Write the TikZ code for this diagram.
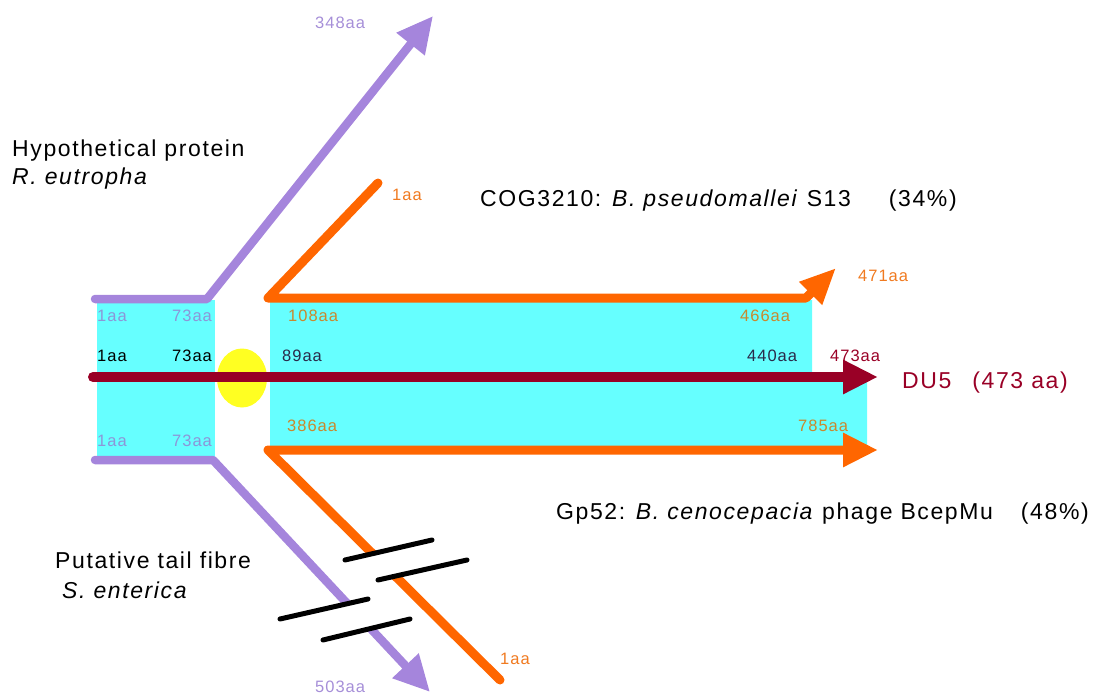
\documentclass[tikz,border=0pt]{standalone}
\usepackage{fontspec}
\setmainfont{Liberation Sans}[LetterSpace=7.0]
\usetikzlibrary{arrows.meta}

\definecolor{domfill}{HTML}{66FFFF}
\definecolor{lav}{HTML}{A585DC}
\definecolor{lavtxt}{HTML}{A68FD8}
\definecolor{bluetxt}{HTML}{8C96D8}
\definecolor{orng}{HTML}{FF6600}
\definecolor{orngtxt}{HTML}{F07A20}
\definecolor{ochre}{HTML}{C8892E}
\definecolor{durd}{HTML}{990026}
\definecolor{navy}{HTML}{2A2A4A}
\definecolor{spot}{HTML}{FFFF22}

\begin{document}
\begin{tikzpicture}[x=1pt,y=-1pt,
  big/.style={font=\fontsize{23}{27}\selectfont, anchor=base west, inner sep=0pt},
  small/.style={font=\fontsize{16.5}{19}\selectfont\addfontfeatures{LetterSpace=6.0}, anchor=base west, inner sep=0pt},
  lavline/.style={draw=lav, line width=8.5pt, line cap=round, line join=round},
  orline/.style={draw=orng, line width=9pt, line cap=round, line join=round},
  duline/.style={draw=durd, line width=10pt, line cap=round},
  brk/.style={draw=black, line width=5pt, line cap=round},
]
\useasboundingbox (0,0) rectangle (1098,695);

% conserved domain blocks
\fill[domfill] (97,300) rectangle (215,457);
\fill[domfill] (270,300) -- (812,300) -- (812,377) -- (867,377) -- (867,450) -- (270,450) -- cycle;

% linker spot
\fill[spot] (242,378) ellipse [x radius=25, y radius=29.5];

% path points
\coordinate (hpA) at (95,299);
\coordinate (hpB) at (207,299);
\coordinate (hpC) at (433,16);
\coordinate (tfA) at (95,460);
\coordinate (tfB) at (213,460);
\coordinate (tfC) at (430,692);
\coordinate (cgA) at (378,183);
\coordinate (cgB) at (268,298);
\coordinate (cgC) at (806,298);
\coordinate (cgD) at (836,268);
\coordinate (gpA) at (500,680);
\coordinate (gpB) at (268,450);
\coordinate (gpC) at (878,450);
\coordinate (duA) at (93,377);
\coordinate (duB) at (878,377);

% hypothetical protein (R. eutropha)
\draw[lavline, -{Triangle[length=36pt,width=34pt]}] (hpA) -- (hpB) -- (hpC);
% putative tail fibre (S. enterica)
\draw[lavline, -{Triangle[length=36pt,width=34pt]}] (tfA) -- (tfB) -- (tfC);
% COG3210
\draw[orline, -{Triangle[length=36pt,width=30pt]}] (cgA) -- (cgB) -- (cgC) -- (cgD);
% Gp52
\draw[orline, -{Triangle[length=35pt,width=32pt]}] (gpA) -- (gpB) -- (gpC);
% DU5
\draw[duline, -{Triangle[length=35pt,width=32pt]}] (duA) -- (duB);

% break symbols
\coordinate (b1a) at (345,560); \coordinate (b1b) at (432,540);
\coordinate (b2a) at (378,580); \coordinate (b2b) at (467,560);
\coordinate (b3a) at (280,619); \coordinate (b3b) at (368,599);
\coordinate (b4a) at (323,640); \coordinate (b4b) at (410,619);
\fill[white] (b1a) -- (b1b) -- (b2b) -- (b2a) -- cycle;
\fill[white] (b3a) -- (b3b) -- (b4b) -- (b4a) -- cycle;
\draw[brk] (b1a) -- (b1b);
\draw[brk] (b2a) -- (b2b);
\draw[brk] (b3a) -- (b3b);
\draw[brk] (b4a) -- (b4b);

% titles
\node[big] (hpT1) at (12,157) {Hypothetical protein};
\node[big] (hpT2) at (12,185) {\textit{R. eutropha}};
\node[big] (cgT) at (480,207) {COG3210: \textit{B. pseudomallei} S13\hspace{38pt}(34\%)};
\node[big, text=durd] (duT) at (902,388) {DU5\hspace{21pt}(473 aa)};
\node[big] (gpT) at (556,519) {Gp52: \textit{B. cenocepacia} phage BcepMu\hspace{28pt}(48\%)};
\node[big] (tfT1) at (55,568) {Putative tail fibre};
\node[big] (tfT2) at (62,598) {\textit{S. enterica}};

% residue positions
\node[small, text=lavtxt] (l348) at (315,29) {348aa};
\node[small, text=orngtxt] (lcg1) at (392,201) {1aa};
\node[small, text=orngtxt] (l471) at (858,281) {471aa};
\node[small, text=bluetxt] (lhp1) at (97,321) {1aa};
\node[small, text=bluetxt] (lhp73) at (172,321) {73aa};
\node[small, text=black] (ldu1) at (97,361) {1aa};
\node[small, text=black] (ldu73) at (172,361) {73aa};
\node[small, text=bluetxt] (ltf1) at (97,446) {1aa};
\node[small, text=bluetxt] (ltf73) at (172,446) {73aa};
\node[small, text=ochre] (l108) at (288,321) {108aa};
\node[small, text=navy] (l89) at (282,361) {89aa};
\node[small, text=ochre] (l386) at (287,431) {386aa};
\node[small, text=ochre] (l466) at (740,321) {466aa};
\node[small, text=navy] (l440) at (747,361) {440aa};
\node[small, text=durd] (l473) at (830,361) {473aa};
\node[small, text=ochre] (l785) at (798,431) {785aa};
\node[small, text=lavtxt] (l503) at (315,692) {503aa};
\node[small, text=orngtxt] (lgp1) at (500,664) {1aa};
\end{tikzpicture}
\end{document}
